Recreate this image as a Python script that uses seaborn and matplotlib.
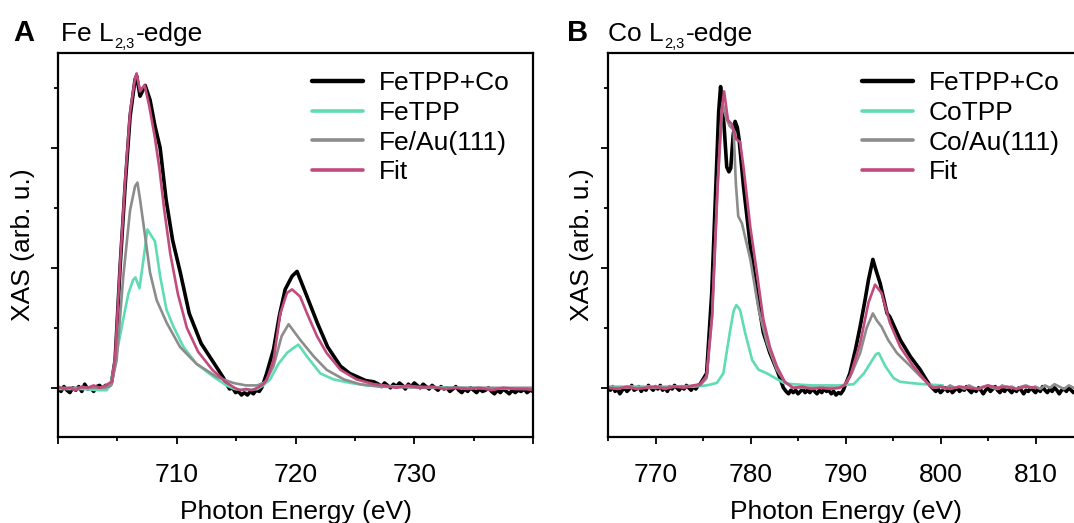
import pandas as pd
import seaborn as sns
import matplotlib
matplotlib.use("Agg")
import matplotlib.pyplot as plt
from matplotlib.text import Annotation
from matplotlib.ticker import MultipleLocator

# ---- Fe L2,3-edge (energy eV, XAS arb. u.) ----
fe_mix = [
    (700.0, 0.00), (700.25, -0.03), (700.5, 0.01), (700.75, -0.02), (701.0, -0.04), (701.25, 0.00),
    (701.5, -0.02), (701.75, 0.01), (702.0, -0.03), (702.25, 0.03), (702.5, -0.01), (702.75, 0.00),
    (703.0, -0.03), (703.25, 0.01), (703.5, 0.02), (703.75, -0.01), (704.0, 0.02), (704.25, 0.01),
    (704.5, 0.04), (704.81, 0.23), (705.23, 1.01), (705.65, 1.68), (706.07, 2.26), (706.49, 2.57),
    (706.62, 2.60), (706.91, 2.43), (707.10, 2.47), (707.34, 2.52), (707.75, 2.40), (708.17, 2.18),
    (708.60, 2.00), (709.10, 1.57), (709.65, 1.23), (710.30, 0.96), (711.05, 0.62), (712.05, 0.37),
    (713.30, 0.18), (713.95, 0.08), (714.2, 0.03), (714.45, -0.01), (714.7, 0.00), (714.95, -0.04),
    (715.2, -0.03), (715.45, -0.06), (715.7, -0.04), (715.95, -0.06), (716.2, -0.03), (716.45, -0.05),
    (716.7, -0.02), (716.95, -0.03), (717.15, 0.00), (717.3, 0.04), (717.57, 0.12), (718.15, 0.32),
    (718.64, 0.60), (719.13, 0.82), (719.71, 0.93), (720.13, 0.97), (720.49, 0.88), (720.97, 0.76),
    (721.84, 0.54), (722.71, 0.34), (723.79, 0.18), (724.56, 0.12), (725.24, 0.09), (725.91, 0.06),
    (726.59, 0.05), (727.0, 0.03), (727.25, 0.01), (727.5, 0.04), (727.75, 0.02), (728.0, 0.00),
    (728.25, 0.03), (728.5, 0.01), (728.75, 0.04), (729.0, 0.02), (729.25, -0.01), (729.5, 0.03),
    (729.75, 0.01), (730.0, 0.04), (730.25, 0.02), (730.5, 0.00), (730.75, 0.03), (731.0, 0.01),
    (731.25, -0.01), (731.5, 0.02), (731.75, 0.00), (732.0, -0.02), (732.25, 0.01), (732.5, -0.01),
    (732.75, 0.00), (733.0, -0.03), (733.25, -0.01), (733.5, 0.01), (733.75, -0.02), (734.0, -0.04),
    (734.25, -0.01), (734.5, -0.03), (734.75, 0.00), (735.0, -0.02), (735.25, -0.04), (735.5, -0.01),
    (735.75, -0.03), (736.0, -0.02), (736.25, 0.00), (736.5, -0.03), (736.75, -0.05), (737.0, -0.02),
    (737.25, -0.04), (737.5, -0.01), (737.75, -0.03), (738.0, -0.05), (738.25, -0.02), (738.5, -0.04),
    (738.75, -0.02), (739.0, -0.03), (739.25, -0.01), (739.5, -0.04), (739.75, -0.02), (740.0, -0.03),
]
fe_tpp = [
    (700.0, -0.01), (702.0, -0.01), (703.5, -0.02), (704.10, -0.02), (704.48, 0.05), (704.94, 0.29),
    (705.65, 0.65), (705.94, 0.79), (706.33, 0.90), (706.52, 0.92), (706.86, 0.83), (707.20, 1.07),
    (707.53, 1.32), (707.78, 1.28), (708.17, 1.22), (708.60, 0.93), (709.14, 0.65), (709.72, 0.51),
    (710.57, 0.34), (711.66, 0.20), (713.12, 0.09), (714.18, 0.02), (714.86, -0.01), (715.83, -0.02),
    (716.80, -0.01), (717.28, 0.02), (717.86, 0.07), (718.57, 0.20), (719.28, 0.29), (719.80, 0.33),
    (720.25, 0.36), (720.97, 0.26), (722.09, 0.12), (723.20, 0.07), (724.65, 0.04), (726.01, 0.02),
    (729.0, 0.01), (734.0, 0.00), (740.0, -0.01),
]
fe_au = [
    (700.0, 0.00), (702.0, 0.00), (704.0, 0.00), (704.48, 0.02), (704.94, 0.23), (705.50, 0.93),
    (706.07, 1.48), (706.49, 1.68), (706.69, 1.71), (706.91, 1.57), (707.34, 1.26), (707.75, 0.96),
    (708.31, 0.73), (709.16, 0.54), (710.28, 0.34), (711.66, 0.20), (713.38, 0.09), (714.77, 0.04),
    (715.83, 0.02), (716.80, 0.02), (717.48, 0.05), (718.15, 0.18), (718.83, 0.43), (719.42, 0.53),
    (720.39, 0.40), (721.55, 0.26), (722.62, 0.15), (724.07, 0.07), (725.43, 0.03), (726.98, 0.01),
    (731.0, 0.00), (735.0, 0.00), (740.0, 0.00),
]
fe_fit = [
    (700.0, 0.01), (700.5, -0.01), (701.0, 0.00), (701.5, -0.02), (702.0, 0.01), (702.5, 0.00),
    (703.0, 0.02), (703.5, 0.00), (704.0, 0.02), (704.52, 0.05), (704.81, 0.25), (705.23, 1.03),
    (705.65, 1.72), (706.07, 2.30), (706.49, 2.58), (706.62, 2.62), (706.91, 2.47), (707.10, 2.50),
    (707.30, 2.52), (707.68, 2.35), (708.15, 2.09), (708.55, 1.82), (708.95, 1.48), (709.45, 1.12),
    (710.10, 0.78), (710.85, 0.50), (711.80, 0.30), (713.00, 0.15), (714.10, 0.05), (714.86, 0.00),
    (715.35, -0.02), (715.83, -0.01), (716.31, -0.02), (716.80, 0.00), (717.28, 0.03), (717.59, 0.07),
    (718.15, 0.23), (718.72, 0.62), (719.28, 0.79), (719.71, 0.82), (720.39, 0.76), (720.97, 0.62),
    (721.81, 0.43), (722.62, 0.29), (723.79, 0.15), (725.14, 0.07), (726.59, 0.03), (727.5, 0.02),
    (728.5, 0.00), (729.5, 0.02), (730.5, 0.00), (731.5, 0.01), (732.5, -0.01), (733.5, 0.00),
    (734.5, -0.01), (735.5, 0.00), (736.5, -0.02), (737.5, 0.00), (738.5, -0.01), (739.5, -0.01),
    (740.0, -0.02),
]

# ---- Co L2,3-edge ----
co_mix = [
    (765.0, 0.00), (765.25, -0.02), (765.5, 0.01), (765.75, -0.03), (766.0, -0.01), (766.25, -0.05),
    (766.5, -0.02), (766.75, 0.00), (767.0, -0.03), (767.25, -0.01), (767.5, 0.02), (767.75, -0.02),
    (768.0, -0.01), (768.25, 0.01), (768.5, -0.03), (768.75, 0.00), (769.0, -0.02), (769.25, 0.02),
    (769.5, 0.00), (769.75, -0.02), (770.0, 0.01), (770.25, -0.01), (770.5, 0.02), (770.75, -0.02),
    (771.0, 0.00), (771.25, -0.03), (771.5, 0.01), (771.75, -0.01), (772.0, 0.02), (772.25, 0.00),
    (772.5, -0.02), (772.75, 0.01), (773.0, -0.01), (773.25, 0.02), (773.5, 0.00), (773.75, -0.02),
    (774.0, 0.01), (774.25, -0.01), (774.5, 0.02), (774.69, 0.03), (775.38, 0.12), (775.92, 0.79),
    (776.45, 1.90), (776.65, 2.30), (776.85, 2.51), (777.04, 2.35), (777.22, 2.18), (777.50, 1.84),
    (777.73, 1.80), (777.92, 1.83), (778.17, 2.10), (778.38, 2.22), (778.61, 2.17), (778.80, 2.07),
    (779.26, 1.68), (779.98, 1.18), (780.67, 0.79), (781.35, 0.46), (782.04, 0.29), (782.77, 0.15),
    (783.11, 0.08), (783.46, 0.00), (783.75, -0.03), (784.0, -0.05), (784.25, -0.02), (784.5, -0.04),
    (784.75, -0.02), (785.0, -0.05), (785.25, -0.03), (785.5, -0.01), (785.75, -0.04), (786.0, -0.02),
    (786.25, -0.04), (786.5, -0.01), (786.75, -0.03), (787.0, -0.05), (787.25, -0.02), (787.5, -0.04),
    (787.75, -0.01), (788.0, -0.03), (788.25, -0.02), (788.5, -0.05), (788.75, -0.03), (789.0, -0.06),
    (789.25, -0.04), (789.5, -0.05), (789.77, -0.02), (790.46, 0.12), (791.05, 0.32), (791.54, 0.51),
    (792.03, 0.72), (792.42, 0.90), (792.88, 1.07), (793.21, 0.98), (793.65, 0.87), (794.38, 0.62),
    (794.68, 0.59), (795.76, 0.40), (796.83, 0.26), (797.87, 0.15), (798.40, 0.08), (798.89, 0.02),
    (799.25, -0.01), (799.5, -0.03), (799.75, -0.01), (800.0, -0.04), (800.25, -0.02), (800.5, 0.00),
    (800.75, -0.03), (801.0, -0.01), (801.25, -0.04), (801.5, -0.02), (801.75, 0.00), (802.0, -0.03),
    (802.25, -0.01), (802.5, -0.02), (802.75, 0.01), (803.0, -0.02), (803.25, -0.04), (803.5, -0.01),
    (803.75, -0.03), (804.0, 0.00), (804.25, -0.02), (804.5, -0.05), (804.75, -0.02), (805.0, 0.00),
    (805.25, -0.03), (805.5, -0.01), (805.75, 0.01), (806.0, -0.02), (806.25, -0.04), (806.5, -0.01),
    (806.75, -0.03), (807.0, 0.00), (807.25, -0.02), (807.5, -0.04), (807.75, -0.01), (808.0, -0.03),
    (808.25, 0.00), (808.5, -0.02), (808.75, -0.05), (809.0, -0.02), (809.25, -0.03), (809.5, 0.00),
    (809.75, -0.02), (810.0, -0.04), (810.25, -0.01), (810.5, -0.03), (810.75, 0.01), (811.0, -0.02),
    (811.25, -0.04), (811.5, -0.01), (811.75, -0.03), (812.0, 0.00), (812.25, -0.02), (812.5, -0.05),
    (812.75, -0.02), (813.0, -0.01), (813.25, -0.03), (813.5, 0.00), (813.75, -0.02), (814.0, -0.04),
    (814.25, -0.02), (814.5, -0.01), (814.75, -0.03), (815.0, -0.02),
]
co_tpp = [
    (765.0, 0.01), (770.0, 0.01), (774.0, 0.01), (775.38, 0.02), (776.45, 0.04), (777.14, 0.12),
    (777.82, 0.46), (778.22, 0.64), (778.51, 0.69), (778.90, 0.65), (779.43, 0.46), (780.18, 0.23),
    (780.86, 0.15), (781.74, 0.12), (782.62, 0.08), (783.51, 0.04), (784.49, 0.03), (786.44, 0.02),
    (789.38, 0.02), (790.86, 0.03), (791.94, 0.12), (792.81, 0.23), (793.21, 0.28), (793.50, 0.29),
    (794.19, 0.18), (795.07, 0.08), (795.76, 0.05), (796.83, 0.04), (798.20, 0.03), (800.26, 0.02),
]
co_au = [
    (765.0, 0.00), (770.0, 0.00), (774.69, 0.02), (775.38, 0.08), (775.96, 0.60), (776.55, 1.70),
    (777.04, 2.37), (777.43, 2.25), (777.82, 2.18), (778.22, 2.15), (778.46, 1.70), (778.71, 1.43),
    (779.10, 1.37), (779.98, 1.07), (780.86, 0.65), (781.74, 0.37), (782.77, 0.15), (783.60, 0.05),
    (784.49, 0.00), (789.38, 0.00), (789.96, 0.03), (790.65, 0.12), (791.54, 0.29), (792.23, 0.50),
    (792.88, 0.62), (793.30, 0.56), (793.79, 0.51), (794.48, 0.40), (795.41, 0.29), (796.83, 0.18),
    (798.20, 0.07), (798.89, 0.02), (799.5, 0.00), (800.0, 0.01), (800.5, -0.01), (801.0, 0.02),
    (801.5, 0.00), (802.0, 0.01), (802.5, -0.01), (803.0, 0.02), (803.5, 0.00), (804.0, -0.01),
    (804.5, 0.01), (805.0, 0.02), (805.5, 0.00), (806.0, -0.01), (806.5, 0.02), (807.0, 0.00),
    (807.5, 0.01), (808.0, -0.01), (808.5, 0.01), (809.0, 0.02), (809.5, 0.00), (810.0, 0.01),
    (810.5, -0.01), (811.0, 0.02), (811.5, 0.00), (812.0, 0.03), (812.5, 0.01), (813.0, -0.01),
    (813.5, 0.02), (814.0, 0.00), (814.5, 0.01), (815.0, 0.00),
]
co_fit = [
    (765.0, 0.00), (766.0, -0.01), (767.0, 0.01), (768.0, -0.01), (769.0, 0.00), (770.0, 0.01),
    (771.0, -0.01), (772.0, 0.01), (773.0, 0.00), (774.0, 0.02), (774.69, 0.03), (775.38, 0.10),
    (775.96, 0.60), (776.55, 1.70), (776.94, 2.30), (777.22, 2.47), (777.63, 2.23), (778.02, 2.20),
    (778.51, 2.07), (778.90, 2.05), (779.26, 1.84), (779.98, 1.34), (780.67, 0.96), (781.35, 0.57),
    (782.04, 0.34), (782.77, 0.18), (783.60, 0.05), (784.49, 0.00), (785.46, 0.01), (786.44, -0.01),
    (787.42, 0.00), (788.40, -0.01), (789.38, 0.00), (789.87, 0.02), (790.46, 0.09), (791.54, 0.37),
    (792.42, 0.71), (793.11, 0.86), (793.79, 0.79), (794.68, 0.54), (795.76, 0.34), (797.13, 0.18),
    (798.60, 0.04), (799.18, 0.00), (800.0, 0.01), (801.0, -0.01), (802.0, 0.01), (803.0, 0.00),
    (804.0, -0.01), (805.0, 0.02), (806.0, 0.00), (807.0, 0.01), (808.0, -0.01), (809.0, 0.01),
    (810.0, 0.00),
]

fe_labels = ["FeTPP+Co", "FeTPP", "Fe/Au(111)", "Fit"]
co_labels = ["FeTPP+Co", "CoTPP", "Co/Au(111)", "Fit"]
colors = ["#000000", "#5fdcb4", "#8c8c8c", "#c14a7e"]
widths = [2.6, 1.9, 1.9, 1.9]
legend_widths = [3.2, 2.6, 2.6, 2.6]

sns.set_theme(style="ticks")
plt.rcParams["font.family"] = ["Liberation Sans", "DejaVu Sans"]
for key in ["text.color", "axes.labelcolor", "xtick.color", "ytick.color", "axes.edgecolor"]:
    plt.rcParams[key] = "black"
FS = 19

fig = plt.figure(figsize=(10.74, 5.23), dpi=100)
W, H = 1074, 523
ax_fe = fig.add_axes([58 / W, (H - 437) / H, 475 / W, 384 / H])
ax_co = fig.add_axes([608 / W, (H - 437) / H, 475 / W, 384 / H])


def draw(ax, curves, labels, xlim, ylabelpad):
    for pts, lab, col, lw in zip(curves, labels, colors, widths):
        d = pd.DataFrame(pts, columns=["energy", "xas"])
        sns.lineplot(data=d, x="energy", y="xas", ax=ax, color=col, linewidth=lw,
                     label=lab, sort=False, estimator=None)
    ax.set_xlim(*xlim)
    ax.set_ylim(-0.41, 2.79)
    ax.xaxis.set_major_locator(MultipleLocator(10))
    ax.xaxis.set_minor_locator(MultipleLocator(5))
    ax.yaxis.set_major_locator(MultipleLocator(1))
    ax.yaxis.set_minor_locator(MultipleLocator(0.5))
    ax.tick_params(which="major", direction="out", length=5, width=1.3, labelsize=FS, pad=14,
                   labelleft=False, left=True, bottom=True)
    ax.tick_params(which="minor", direction="out", length=3, width=1.3, left=True, bottom=True)
    for s in ax.spines.values():
        s.set_linewidth(1.6)
    ax.set_xlabel("Photon Energy (eV)", fontsize=FS, labelpad=9)
    ax.set_ylabel("XAS (arb. u.)", fontsize=FS, labelpad=ylabelpad)
    leg = ax.legend(loc="upper left", bbox_to_anchor=(0.534, 0.952), frameon=False, fontsize=FS,
                    borderpad=0, borderaxespad=0, handlelength=1.93, handletextpad=0.6,
                    labelspacing=0.21)
    for h, lw in zip(leg.legend_handles, legend_widths):
        h.set_linewidth(lw)


draw(ax_fe, [fe_mix, fe_tpp, fe_au, fe_fit], fe_labels, (700, 740), 10)
draw(ax_co, [co_mix, co_tpp, co_au, co_fit], co_labels, (765, 815), 4)

# the reference leaves the end ticks of panel A unlabeled
ax_fe.set_xticks([700, 710, 720, 730, 740])
ax_fe.set_xticklabels(["", "710", "720", "730", ""])


def panel_title(x, letter, element):
    fig.text(x[0] / W, 1 - 41 / H, letter, fontsize=21, fontweight="bold", va="baseline")
    main = fig.text(x[1] / W, 1 - 41 / H, element + " L", fontsize=FS, va="baseline")
    # small "2,3" subscript, then "-edge" back on the main baseline
    sub = fig.add_artist(Annotation(
        "2,3", xy=(1, 0), xycoords=main, xytext=(0.8, -3.5), textcoords="offset points",
        fontsize=10.5, va="bottom", ha="left"))
    fig.add_artist(Annotation(
        "-edge", xy=(1, 0), xycoords=(sub, main), xytext=(0.5, 0), textcoords="offset points",
        fontsize=FS, va="bottom", ha="left"))


panel_title((13, 61), "A", "Fe")
panel_title((567, 608), "B", "Co")

fig.savefig("out.png", dpi=100)
